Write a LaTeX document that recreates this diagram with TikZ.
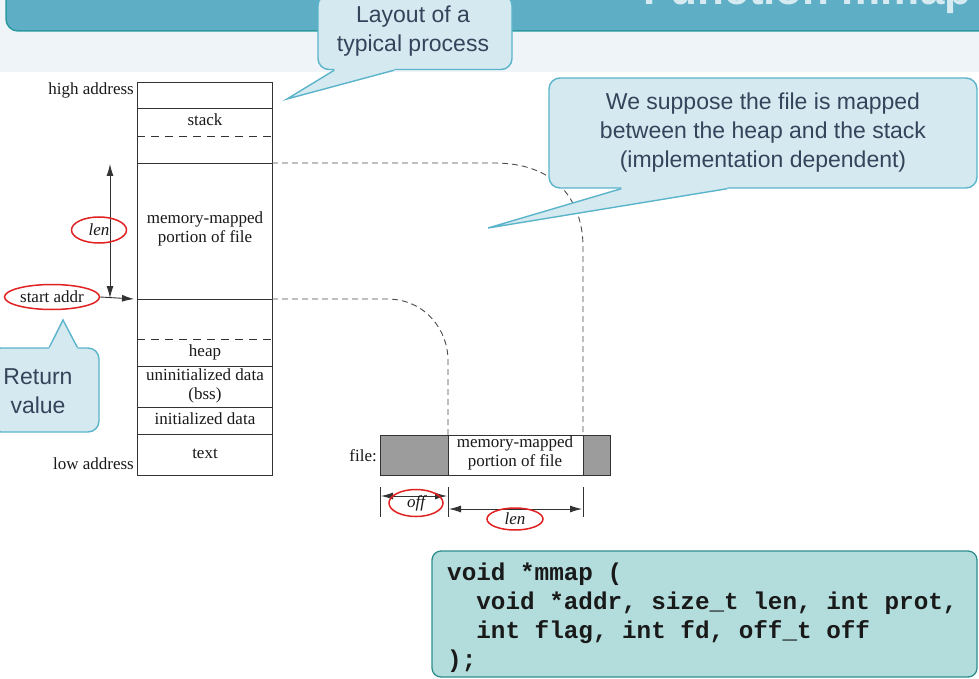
\documentclass[tikz,border=0pt]{standalone}
\usepackage{fontspec}
\newfontfamily\memfont{Liberation Serif}
\newfontfamily\callfont{Liberation Sans}
\newfontfamily\codefont{Liberation Mono}
\usetikzlibrary{positioning,shapes.geometric,arrows.meta}
\definecolor{bar}{HTML}{5EAEC6}
\definecolor{barline}{HTML}{2A9A9E}
\definecolor{bartext}{HTML}{D6EBF1}
\definecolor{band}{HTML}{EEF4F7}
\definecolor{callfill}{HTML}{D5E9F1}
\definecolor{callline}{HTML}{5AB4CA}
\definecolor{calltext}{HTML}{34445A}
\definecolor{codefill}{HTML}{B3DDDD}
\definecolor{codeline}{HTML}{2E8E8E}
\definecolor{filegray}{HTML}{9C9C9C}
\definecolor{ring}{HTML}{E22222}
\begin{document}
\begin{tikzpicture}[x=1pt,y=-1pt,
    >={Latex[length=12pt,width=7pt]},
    mem/.style={font=\memfont\fontsize{17}{19}\selectfont, align=center, inner sep=0pt, text=black!90},
    wall/.style={draw=black!80, line width=0.9pt},
    link/.style={draw=black!70, line width=0.9pt, dash pattern=on 6pt off 4pt},
    redring/.style={draw=ring, ellipse, line width=1.5pt, inner sep=0pt, text=black!90, font=\memfont\fontsize{17}{19}\selectfont\itshape},
    callbox/.style={draw=callline, fill=callfill, line width=1.4pt, rounded corners=11pt},
    calltext/.style={font=\callfont\fontsize{23}{29}\selectfont, text=calltext, align=center},
    codebox/.style={draw=codeline, fill=codefill, line width=1.3pt, rounded corners=9pt},
    codetext/.style={align=left, inner sep=0pt, font=\codefont\bfseries\fontsize{24.3}{29}\selectfont, text=black!90}]
  \useasboundingbox (0,0) rectangle (979,679);
  \fill[white] (0,0) rectangle (979,679);
  \fill[band] (0,0) rectangle (979,72);
  \draw[fill=bar, draw=barline, line width=1.5pt, rounded corners=12pt] (6,-40) rectangle (1010,31);
  \node[font=\callfont\bfseries\fontsize{44}{44}\selectfont, text=bartext, anchor=base east] (title) at (975,5) {Function mmap};

  \draw[wall] (137,82) rectangle (272,475);
  \foreach \y in {108,163,299,366,407,434}
    \draw[wall] (137,\y) -- (272,\y);
  \foreach \y in {136,339}
    \draw[wall, dash pattern=on 8pt off 6pt] (137,\y) -- (276,\y);
  \node[mem, anchor=east] (high) at (134,90) {high address};
  \node[mem, anchor=east] (low) at (134,464) {low address};
  \node[mem] (stack) at (205,120) {stack};
  \node[mem] (mapped) at (205,229) {memory-mapped\\portion of file};
  \node[mem] (heap) at (205,352) {heap};
  \node[mem] (bss) at (205,386) {uninitialized data\\(bss)};
  \node[mem] (data) at (205,419) {initialized data};
  \node[mem] (text) at (205,454) {text};
  \coordinate (mtop) at (272,163);
  \coordinate (mbot) at (272,299);

  \draw[wall, <->] (110,164) -- (110,298);
  \node[redring, minimum width=55pt, minimum height=26pt] (lenring) at (99,230) {len};
  \node[redring, minimum width=95pt, minimum height=25pt, font=\memfont\fontsize{17}{19}\selectfont] (start) at (52,297) {start addr};
  \draw[wall, ->] (start.east) -- (134,299);

  \fill[filegray] (380,435) rectangle (448,475);
  \fill[filegray] (583,435) rectangle (610,475);
  \draw[wall] (380,435) rectangle (610,475);
  \draw[wall] (448,435) -- (448,475) (583,435) -- (583,475);
  \node[mem] (filemap) at (515,453) {memory-mapped\\portion of file};
  \node[mem, anchor=east] (file) at (377,456) {file:};
  \coordinate (fileoff) at (448,435);
  \coordinate (fileend) at (583,435);

  \draw[link] (mtop) -- (494,163) .. controls (560,163) and (583,205) .. (583,247) -- (fileend);
  \draw[link] (mbot) -- (387,299) .. controls (425,299) and (448,330) .. (448,360) -- (fileoff);

  \foreach \x in {380,448,583}
    \draw[wall] (\x,487) -- (\x,517);
  \draw[wall, <->] (381,496) -- (447,496);
  \draw[wall, <->] (449,509) -- (582,509);
  \node[redring, minimum width=54pt, minimum height=27pt] (offring) at (416,503) {off};
  \node[redring, minimum width=56pt, minimum height=22pt] (lenring2) at (515,519) {len};

  \node[callbox, minimum width=194pt, minimum height=75pt] (layoutbox) at (415,32) {};
  \node[calltext] (layout) at (413,31) {Layout of a\\typical process};
  \fill[callfill] ([xshift=17pt,yshift=3pt]layoutbox.south west) -- ([xshift=17pt]layoutbox.south west) -- (287,99)
    -- ([xshift=77pt]layoutbox.south west) -- ([xshift=77pt,yshift=3pt]layoutbox.south west) -- cycle;
  \draw[callline, line width=1.4pt] ([xshift=17pt]layoutbox.south west) -- (287,99) -- ([xshift=77pt]layoutbox.south west);

  \node[callbox, minimum width=428pt, minimum height=110pt] (mapbox) at (763,133) {};
  \node[calltext] (maptext) at (763,133) {We suppose the file is mapped\\between the heap and the stack\\(implementation dependent)};
  \fill[callfill] ([xshift=73pt,yshift=3pt]mapbox.south west) -- ([xshift=73pt]mapbox.south west) -- (488,228)
    -- ([xshift=179pt]mapbox.south west) -- ([xshift=179pt,yshift=3pt]mapbox.south west) -- cycle;
  \draw[callline, line width=1.4pt] ([xshift=73pt]mapbox.south west) -- (488,228) -- ([xshift=179pt]mapbox.south west);

  \node[callbox, minimum width=109pt, minimum height=84pt] (retbox) at (44.5,390) {};
  \node[calltext] (ret) at (38,391) {Return\\value};
  \fill[callfill] ([xshift=60pt,yshift=-3pt]retbox.north west) -- ([xshift=60pt]retbox.north west) -- (63,320)
    -- ([xshift=88pt]retbox.north west) -- ([xshift=88pt,yshift=-3pt]retbox.north west) -- cycle;
  \draw[callline, line width=1.4pt] ([xshift=60pt]retbox.north west) -- (63,320) -- ([xshift=88pt]retbox.north west);

  \node[codebox, minimum width=545pt, minimum height=126pt] (protobox) at (704.5,614) {};
  \node[codetext, anchor=west] (proto) at (447,618)
    {void *mmap (\\\hspace*{1.2em}void *addr, size\_t len, int prot,\\\hspace*{1.2em}int flag, int fd, off\_t off\\);};
\end{tikzpicture}
\end{document}
